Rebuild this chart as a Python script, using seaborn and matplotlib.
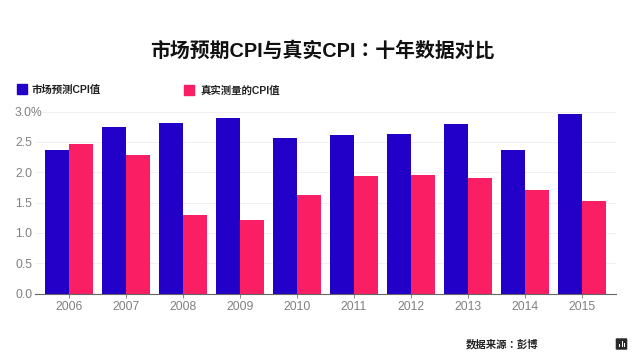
import pandas as pd
import matplotlib.pyplot as plt
import seaborn as sns
from matplotlib.patches import FancyBboxPatch, Patch, Rectangle

years = ['2006', '2007', '2008', '2009', '2010', '2011', '2012', '2013', '2014', '2015']
expected = [2.37, 2.74, 2.81, 2.90, 2.56, 2.62, 2.63, 2.80, 2.36, 2.96]
actual = [2.46, 2.28, 1.29, 1.21, 1.63, 1.94, 1.96, 1.91, 1.71, 1.53]
name_expected = '市场预测CPI值'
name_actual = '真实测量的CPI值'
y_ticks = [0.0, 0.5, 1.0, 1.5, 2.0, 2.5, 3.0]
y_labels = ['0.0', '0.5', '1.0', '1.5', '2.0', '2.5', '3.0%']
colors = ['#2200C8', '#FA1E64']

sns.set_theme(style='white')
plt.rcParams['font.family'] = ['Liberation Sans', 'Noto Sans CJK TC', 'DejaVu Sans']

df = pd.DataFrame({'year': years * 2,
                   'value': expected + actual,
                   'kind': [name_expected] * 10 + [name_actual] * 10})

W, H = 640, 364
fig = plt.figure(figsize=(W / 100, H / 100), dpi=100)
ax = fig.add_axes([35 / W, 1 - 293.5 / H, 581 / W, 182 / H])

sns.barplot(data=df, x='year', y='value', hue='kind', palette=colors,
            width=0.85, gap=0.03, saturation=1, linewidth=0, legend=False, ax=ax)

ax.set_xlim(-0.595, 9.598)
ax.set_ylim(0, 3.0)
ax.set_xlabel('')
ax.set_ylabel('')
ax.set_yticks(y_ticks)
ax.set_yticklabels(y_labels)
ax.grid(axis='y', color='#F0F0F0', linewidth=0.7)
ax.set_axisbelow(True)
sns.despine(ax=ax, left=True)
ax.spines['bottom'].set_color('#666666')
ax.spines['bottom'].set_linewidth(0.8)
ax.tick_params(axis='x', length=3, width=0.7, color='#888888', labelsize=8.7,
               labelcolor='#808080', pad=2.2, bottom=True)
# y轴标签左对齐，从 x=15 开始
ax.tick_params(axis='y', length=0, labelsize=8.7, labelcolor='#808080', pad=14.4)
for lab in ax.get_yticklabels():
    lab.set_horizontalalignment('left')

fig.text(322 / W, 1 - 51 / H, '市场预期CPI与真实CPI：十年数据对比', ha='center', va='center',
         fontsize=14.3, fontweight='bold', color='#111111')

# 两个图例不在同一高度，分开画
leg1 = fig.legend(handles=[Patch(color=colors[0], label=name_expected)], loc='center left',
                  bbox_to_anchor=(17 / W, 1 - 89 / H), frameon=False, fontsize=7.5,
                  handlelength=1.0, handleheight=1.2, handletextpad=0.35, borderpad=0, borderaxespad=0)
leg2 = fig.legend(handles=[Patch(color=colors[1], label=name_actual)], loc='center left',
                  bbox_to_anchor=(184 / W, 1 - 90 / H), frameon=False, fontsize=7.5,
                  handlelength=1.0, handleheight=1.2, handletextpad=0.63, borderpad=0, borderaxespad=0)
for leg in (leg1, leg2):
    for t in leg.get_texts():
        t.set_fontweight('bold')
        t.set_color('#222222')

fig.text(502 / W, 1 - 344 / H, '数据来源：彭博', ha='center', va='center',
         fontsize=7.5, fontweight='bold', color='#222222')

# 右下角小图标
fig.add_artist(FancyBboxPatch((617 / W, 1 - 349 / H), 9 / W, 10 / H,
                              boxstyle='round,pad=0.002', transform=fig.transFigure,
                              facecolor='#2A2A2A', edgecolor='none'))
for dx, h in [(619, 3), (621.5, 6), (624, 4)]:
    fig.add_artist(Rectangle((dx / W, 1 - 346.5 / H), 1 / W, h / H, transform=fig.transFigure,
                             facecolor='white', edgecolor='none'))

fig.savefig('out.png', dpi=100, facecolor='white')
